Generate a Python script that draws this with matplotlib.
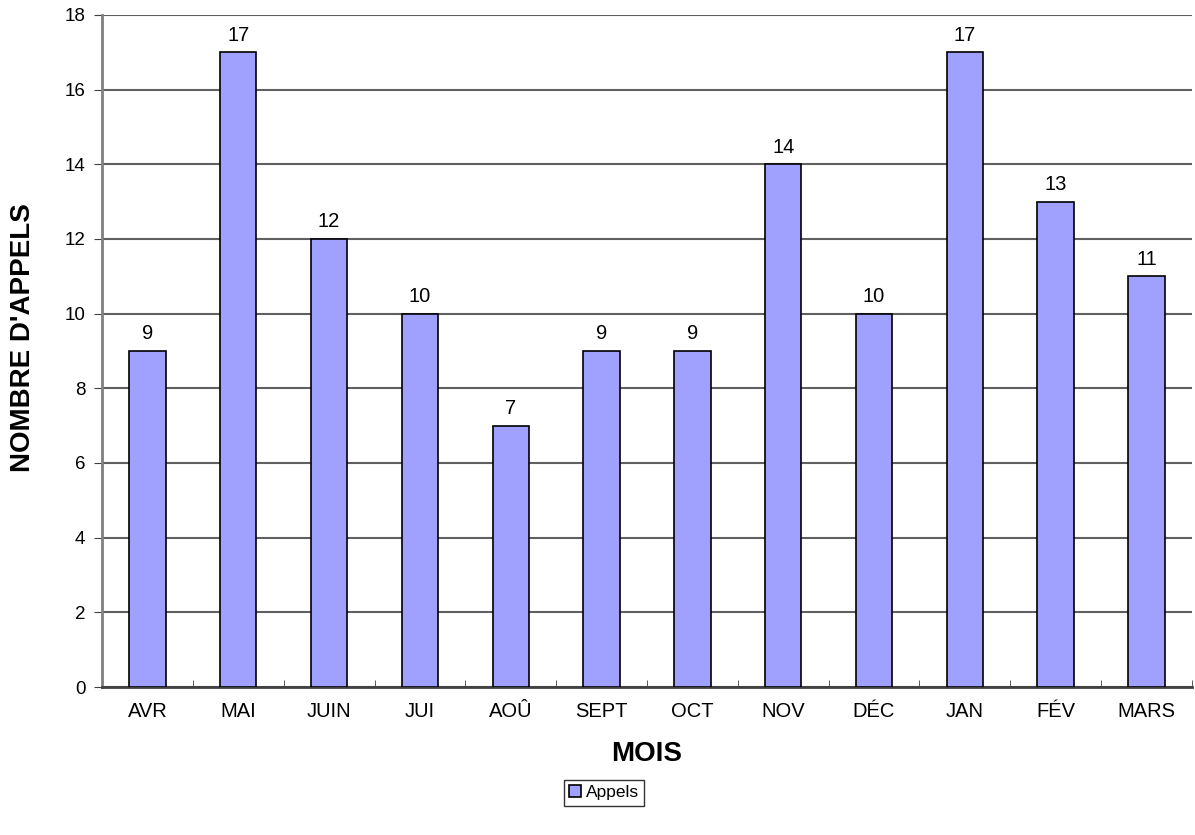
import numpy as np
import matplotlib
matplotlib.use("Agg")
import matplotlib.pyplot as plt

plt.rcParams['font.family'] = ['Liberation Sans', 'DejaVu Sans']

mois = ["AVR", "MAI", "JUIN", "JUI", "AOÛ", "SEPT", "OCT", "NOV", "DÉC", "JAN", "FÉV", "MARS"]
appels = [9, 17, 12, 10, 7, 9, 9, 14, 10, 17, 13, 11]

fig = plt.figure(figsize=(11.95, 8.35), dpi=100)
ax = fig.add_axes([0.0854, 0.1772, 0.912, 0.805])

x = np.arange(len(mois))
bars = ax.bar(x, appels, width=0.4, color='#A0A0FF', edgecolor='black', linewidth=1.2,
              label='Appels', zorder=3)

# valeurs au-dessus des barres
for xi, v in zip(x, appels):
    ax.text(xi, v + 0.2, str(v), ha='center', va='bottom', fontsize=14.5)

ax.set_xlim(-0.5, len(mois) - 0.5)
ax.set_ylim(0, 18)
ax.set_yticks(np.arange(0, 19, 2))
ax.yaxis.grid(True, color='#606060', linewidth=1.5, zorder=0)
ax.set_axisbelow(True)

ax.set_xticks(x)
ax.set_xticklabels(mois, fontsize=14.5)
ax.set_xticks(np.arange(-0.5, len(mois), 1), minor=True)
ax.tick_params(axis='x', which='major', length=0, pad=11)
ax.tick_params(axis='x', which='minor', length=5, direction='in', color='#404040')
ax.tick_params(axis='y', labelsize=13.5, length=6, direction='out', color='#404040', pad=6)

for s in ['top', 'right']:
    ax.spines[s].set_visible(False)
ax.spines['left'].set_color('#808080')
ax.spines['left'].set_linewidth(2)
ax.spines['bottom'].set_color('#404040')
ax.spines['bottom'].set_linewidth(2)

ax.set_xlabel('MOIS', fontsize=20, fontweight='bold', labelpad=14)
ax.set_ylabel("NOMBRE D'APPELS", fontsize=20, fontweight='bold')
ax.yaxis.set_label_coords(-0.061, 0.52)

leg = fig.legend(loc='center', bbox_to_anchor=(0.5054, 0.0505), fontsize=12.5,
                 frameon=True, fancybox=False, edgecolor='black', handlelength=0.7,
                 handleheight=0.7, handletextpad=0.3, borderpad=0.3)
leg.get_frame().set_linewidth(1)

fig.savefig('out.png', dpi=100)
